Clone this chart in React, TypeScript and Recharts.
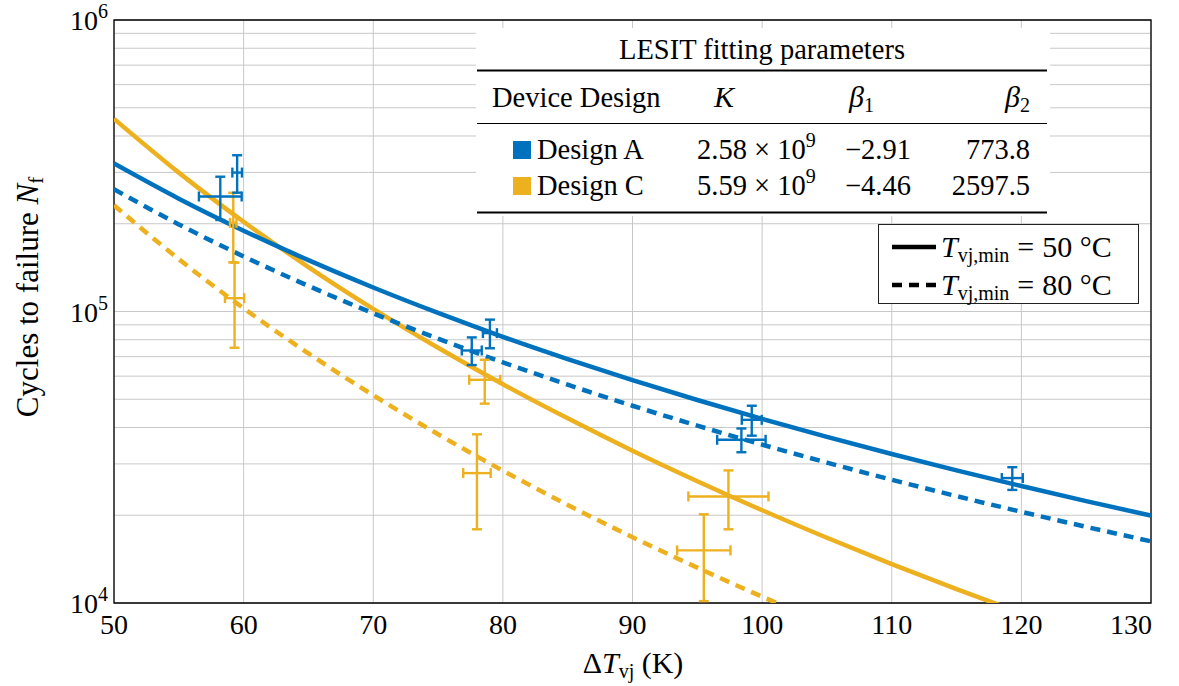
import React from 'react';
import {
  ComposedChart,
  Line,
  Scatter,
  ErrorBar,
  XAxis,
  YAxis,
  CartesianGrid,
  ReferenceArea,
} from 'recharts';

const BLUE = '#0072BD';
const GOLD = '#EDB120';
const SERIF = '"Liberation Serif", "Times New Roman", serif';

// ΔT_vj grid of the fitted LESIT curves
const dT = [50, 55, 60, 65, 70, 75, 80, 85, 90, 95, 100, 105, 110, 115, 120, 125, 130];
// Design A, Tvj,min = 50 °C / 80 °C
const aMin50 = [321800, 243800, 189300, 150000, 120900, 98900, 81900, 68700, 58200, 49700, 42800, 37150, 32450, 28500, 25190, 22360, 19950];
const aMin80 = [262600, 199000, 154500, 122400, 98600, 80700, 66900, 56100, 47500, 40600, 34940, 30310, 26480, 23260, 20550, 18250, 16280];
// Design C, Tvj,min = 50 °C / 80 °C (runs out of the bottom)
const cMin50 = [458000, 299500, 203100, 142100, 102100, 75100, 56300, 43000, 33300, 26170, 20810, 16740, 13600, 11160, 9230];
const cMin80 = [231400, 151200, 102600, 71800, 51600, 37930, 28440, 21700, 16820, 13220, 10510, 8460];

// measured points with error bars
const aX = [58.2, 59.5, 77.6, 79.0, 99.2, 98.4, 119.3];
const aXErr = [1.65, 0.37, 0.77, 0.54, 0.77, 1.87, 0.81];
const aN = [248000, 299600, 73500, 84300, 42500, 36300, 26830];
const aNErr = [42000, 44000, 8000, 9500, 5000, 3400, 2400];
const cX = [59.2, 59.3, 78.6, 78.0, 97.4, 95.5];
const cXErr = [0.25, 0.74, 1.2, 1.06, 3.09, 2.06];
const cN = [201400, 111100, 58300, 27900, 23200, 15150];
const cNErr = [54000, 36000, 10000, 10000, 5300, 5000];

const xTicks = [50, 60, 70, 80, 90, 100, 110, 120, 130];
const yTicks = [
  10000, 20000, 30000, 40000, 50000, 60000, 70000, 80000, 90000,
  100000, 200000, 300000, 400000, 500000, 600000, 700000, 800000, 900000,
  1000000,
];
const yDecades = [10000, 100000, 1000000];

const curve = (ys: number[]) => ys.map((y, i) => ({ x: dT[i], y }));
const points = (xs: number[], ex: number[], ys: number[], ey: number[]) =>
  xs.map((x, i) => ({ x, ex: ex[i], y: ys[i], ey: ey[i] }));

const noMarker = () => <g />;

function XTick(props: any) {
  const { x, y, payload } = props;
  const last = payload.value === xTicks[xTicks.length - 1];
  return (
    <text
      x={last ? x + 1 : x}
      y={y}
      dy="0.71em"
      textAnchor={last ? 'end' : 'middle'}
      fontFamily={SERIF}
      fontSize={28}
      fill="#000"
    >
      {payload.value}
    </text>
  );
}

function YTick(props: any) {
  const { y, payload } = props;
  const idx = yDecades.indexOf(payload.value);
  if (idx < 0) return <g />;
  const exp = Math.round(Math.log10(payload.value));
  return (
    <text x={108} y={y + 10} textAnchor="end" fontFamily={SERIF} fontSize={28} fill="#000">
      10
      <tspan dy={-12} fontSize={20}>
        {exp}
      </tspan>
    </text>
  );
}

function Overlay() {
  const t = { fontFamily: SERIF, fontSize: 28.5, fill: '#000' };
  const m = { fontFamily: SERIF, fontSize: 30, fill: '#000' };
  return (
    <svg
      width={1179}
      height={686}
      style={{ position: 'absolute', left: 0, top: 0, pointerEvents: 'none' }}
    >
      {/* parameter table */}
      <rect x={476} y={28} width={574} height={188} fill="#fff" />
      <text {...t} x={762} y={59} textAnchor="middle">LESIT fitting parameters</text>
      <line x1={477} x2={1047} y1={70.5} y2={70.5} stroke="#000" strokeWidth={2.2} />
      <text {...t} x={492} y={107}>Device Design</text>
      <text {...t} fontSize={30} x={714} y={107} fontStyle="italic">K</text>
      <text {...t} fontSize={30} x={849} y={107}>
        <tspan fontStyle="italic">β</tspan>
        <tspan fontSize={20} dy={5}>1</tspan>
      </text>
      <text {...t} fontSize={30} x={1030} y={107} textAnchor="end">
        <tspan fontStyle="italic">β</tspan>
        <tspan fontSize={20} dy={5}>2</tspan>
      </text>
      <line x1={477} x2={1047} y1={123.5} y2={123.5} stroke="#000" strokeWidth={1.2} />
      <rect x={513} y={141} width={18} height={18} fill={BLUE} />
      <text {...t} x={537} y={159}>Design A</text>
      <text {...t} x={697} y={159}>
        2.58 × 10<tspan fontSize={20} dy={-12}>9</tspan>
      </text>
      <text {...t} x={911} y={159} textAnchor="end">−2.91</text>
      <text {...t} x={1030} y={159} textAnchor="end">773.8</text>
      <rect x={513} y={177} width={18} height={18} fill={GOLD} />
      <text {...t} x={537} y={195}>Design C</text>
      <text {...t} x={697} y={195}>
        5.59 × 10<tspan fontSize={20} dy={-12}>9</tspan>
      </text>
      <text {...t} x={911} y={195} textAnchor="end">−4.46</text>
      <text {...t} x={1030} y={195} textAnchor="end">2597.5</text>
      <line x1={477} x2={1047} y1={212.5} y2={212.5} stroke="#000" strokeWidth={2.2} />

      {/* line style legend */}
      <rect x={878.5} y={224.5} width={260} height={79} fill="#fff" stroke="#222" strokeWidth={1} />
      <line x1={892} x2={936} y1={247} y2={247} stroke="#000" strokeWidth={4.5} />
      <line x1={892} x2={936} y1={285} y2={285} stroke="#000" strokeWidth={4.5} strokeDasharray="10 7" />
      <text {...m} x={941} y={257}>
        <tspan fontStyle="italic">T</tspan>
        <tspan fontSize={20} dy={5}>vj,min</tspan>
        <tspan dy={-5} dx={8}>=</tspan>
        <tspan dx={8}>50 °C</tspan>
      </text>
      <text {...m} x={941} y={295}>
        <tspan fontStyle="italic">T</tspan>
        <tspan fontSize={20} dy={5}>vj,min</tspan>
        <tspan dy={-5} dx={8}>=</tspan>
        <tspan dx={8}>80 °C</tspan>
      </text>

      {/* axis titles */}
      <text {...m} x={633} y={673} textAnchor="middle">
        Δ<tspan fontStyle="italic">T</tspan>
        <tspan fontSize={20} dy={5}>vj</tspan>
        <tspan dy={-5}> (K)</tspan>
      </text>
      <text {...m} fontSize={31} textAnchor="middle" transform="translate(38,297) rotate(-90)">
        Cycles to failure <tspan fontStyle="italic">N</tspan>
        <tspan fontSize={21} dy={5}>f</tspan>
      </text>
    </svg>
  );
}

export default function App() {
  return (
    <div style={{ position: 'absolute', left: 0, top: 0, width: 1179, height: 686, background: '#fff' }}>
      <ComposedChart width={1179} height={686} margin={{ top: 20, right: 28, bottom: 0, left: 0 }}>
        <CartesianGrid stroke="#c8c8c8" strokeWidth={1} />
        <XAxis
          type="number"
          dataKey="x"
          domain={[50, 130]}
          ticks={xTicks}
          allowDataOverflow
          tickLine={false}
          axisLine={false}
          tickMargin={5}
          height={83}
          interval={0}
          tick={<XTick />}
        />
        <YAxis
          type="number"
          dataKey="y"
          scale="log"
          domain={[10000, 1000000]}
          ticks={yTicks}
          allowDataOverflow
          tickLine={false}
          axisLine={false}
          width={114}
          interval={0}
          tick={<YTick />}
        />
        <ReferenceArea x1={50} x2={130} y1={10000} y2={1000000} fill="none" stroke="#000" strokeWidth={1.3} />
        <Line data={curve(cMin50)} dataKey="y" type="monotone" stroke={GOLD} strokeWidth={4.5} dot={false} isAnimationActive={false} />
        <Line data={curve(cMin80)} dataKey="y" type="monotone" stroke={GOLD} strokeWidth={4.5} strokeDasharray="10 7" dot={false} isAnimationActive={false} />
        <Line data={curve(aMin50)} dataKey="y" type="monotone" stroke={BLUE} strokeWidth={4.5} dot={false} isAnimationActive={false} />
        <Line data={curve(aMin80)} dataKey="y" type="monotone" stroke={BLUE} strokeWidth={4.5} strokeDasharray="10 7" dot={false} isAnimationActive={false} />
        <Scatter data={points(cX, cXErr, cN, cNErr)} dataKey="y" shape={noMarker} isAnimationActive={false}>
          <ErrorBar dataKey="ey" direction="y" width={5} stroke={GOLD} strokeWidth={2.4} />
          <ErrorBar dataKey="ex" direction="x" width={5} stroke={GOLD} strokeWidth={2.4} />
        </Scatter>
        <Scatter data={points(aX, aXErr, aN, aNErr)} dataKey="y" shape={noMarker} isAnimationActive={false}>
          <ErrorBar dataKey="ey" direction="y" width={5} stroke={BLUE} strokeWidth={2.4} />
          <ErrorBar dataKey="ex" direction="x" width={5} stroke={BLUE} strokeWidth={2.4} />
        </Scatter>
      </ComposedChart>
      <Overlay />
    </div>
  );
}
